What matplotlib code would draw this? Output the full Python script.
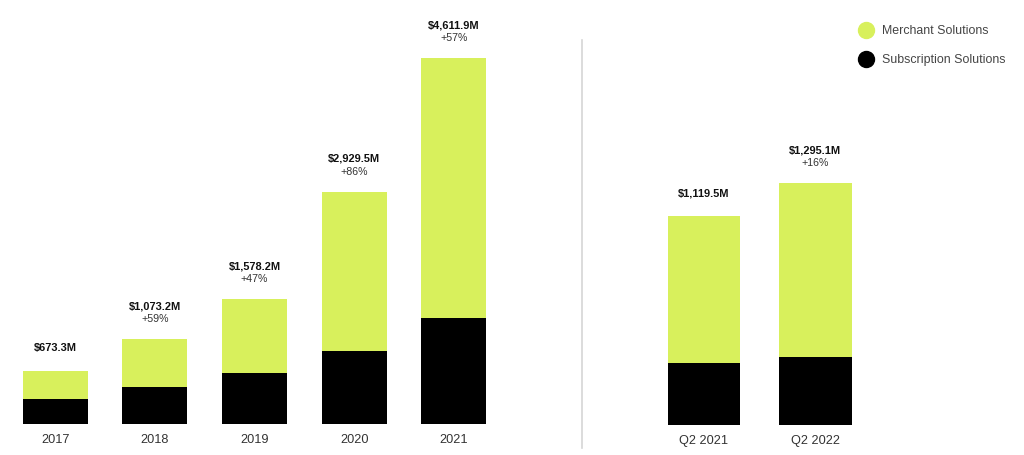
import matplotlib
matplotlib.use("Agg")
import matplotlib.pyplot as plt
from matplotlib.lines import Line2D

plt.rcParams['font.family'] = ['Liberation Sans', 'DejaVu Sans']

# ---- data ----
years = ["2017", "2018", "2019", "2020", "2021"]
annual_total = [673.3, 1073.2, 1578.2, 2929.5, 4611.9]
annual_sub = [315, 462, 639, 920, 1340]
annual_growth = [None, "+59%", "+47%", "+86%", "+57%"]

quarters = ["Q2 2021", "Q2 2022"]
q_total = [1119.5, 1295.1]
q_sub = [334.2, 366.4]
q_growth = [None, "+16%"]

series_names = ["Merchant Solutions", "Subscription Solutions"]

LIME = "#d8f05c"
BLACK = "#000000"
TXT = "#333333"

W, H = 1024, 455
fig = plt.figure(figsize=(W / 100, H / 100), dpi=100)


def panel(ax, cats, totals, subs, growth, ymax):
    x = list(range(len(cats)))
    merch = [t - s for t, s in zip(totals, subs)]
    ax.bar(x, subs, width=0.653, color=BLACK, linewidth=0)
    ax.bar(x, merch, bottom=subs, width=0.653, color=LIME, linewidth=0)
    ax.set_xlim(-0.5, len(cats) - 0.5)
    ax.set_ylim(0, ymax)
    ax.set_xticks(x)
    ax.set_xticklabels(cats, fontsize=9.2, color=TXT)
    ax.tick_params(axis='x', length=0, pad=7)
    ax.set_yticks([])
    for s in ax.spines.values():
        s.set_visible(False)
    for xi, t, g in zip(x, totals, growth):
        lab = "${:,.1f}M".format(t)
        if g is None:
            ax.annotate(lab, (xi, t), xytext=(0, 16.5), textcoords='offset points',
                        ha='center', va='center', fontsize=7.9, fontweight='bold', color='#111111')
        else:
            ax.annotate(lab, (xi, t), xytext=(0, 23.5), textcoords='offset points',
                        ha='center', va='center', fontsize=7.9, fontweight='bold', color='#111111')
            ax.annotate(g, (xi, t), xytext=(0, 14.3), textcoords='offset points',
                        ha='center', va='center', fontsize=7.7, color=TXT)


# left panel: axes from px 5.4 to 503.7, baseline at y=424
ax1 = fig.add_axes([5.4 / W, 31 / H, 498.3 / W, 424 / H])
panel(ax1, years, annual_total, annual_sub, annual_growth, 424 / 0.07936)

# right panel: px 648.3 to 871.05, baseline y=425
ax2 = fig.add_axes([648.3 / W, 30 / H, 222.75 / W, 425 / H])
panel(ax2, quarters, q_total, q_sub, q_growth, 425 / 0.1867)

# separator
fig.add_artist(Line2D([581.7 / W, 581.7 / W], [7 / H, 415 / H], color="#d6d6d6", linewidth=1.2))

handles = [Line2D([], [], marker='o', linestyle='none', markersize=11.5, markerfacecolor=LIME,
                  markeredgecolor=LIME),
           Line2D([], [], marker='o', linestyle='none', markersize=11.5, markerfacecolor=BLACK,
                  markeredgecolor=BLACK)]
leg = fig.legend(handles, series_names, loc='upper left', bbox_to_anchor=(852 / W, 1 - 19 / H),
                 frameon=False, fontsize=8.9, handletextpad=0.75, labelspacing=1.35,
                 borderpad=0, handlelength=1.2)
for t in leg.get_texts():
    t.set_color("#444444")

fig.savefig("out.png", dpi=100, facecolor='white')
